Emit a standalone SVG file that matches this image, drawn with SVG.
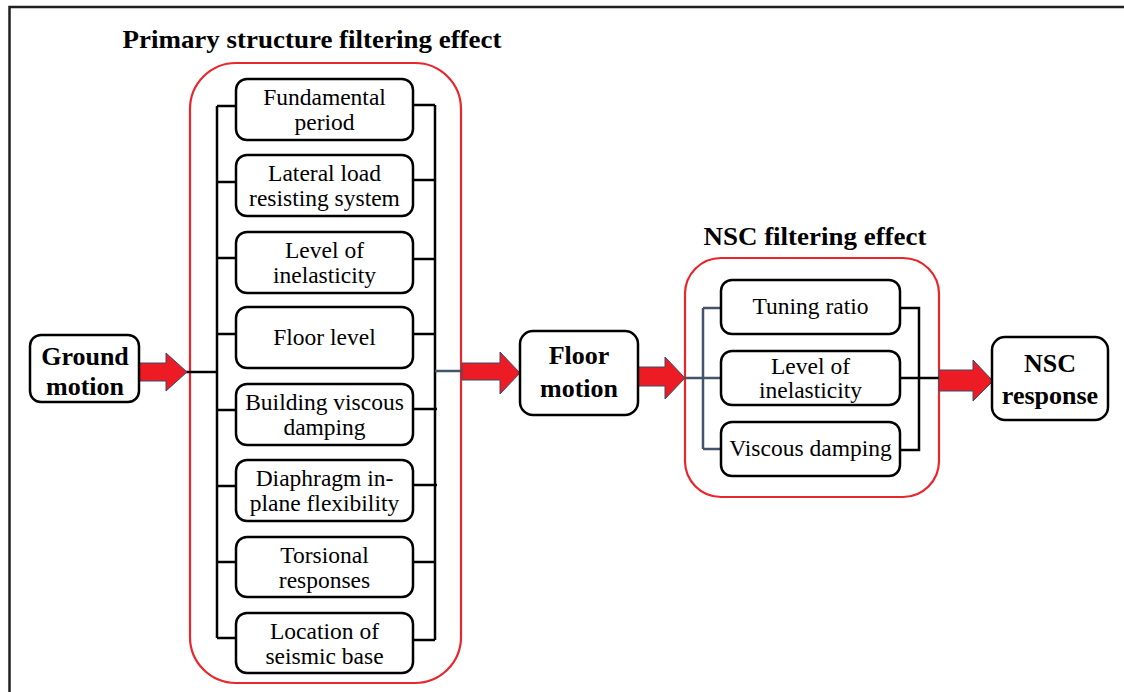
<svg xmlns="http://www.w3.org/2000/svg" width="1124" height="692" viewBox="0 0 1124 692">
  <style>
    .frame { fill: none; stroke: #231f20; stroke-width: 2.5; }
    .group { fill: none; stroke: #e8262b; stroke-width: 2.2; }
    .box { fill: #ffffff; stroke: #000000; stroke-width: 2.5; }
    .bus { fill: none; stroke: #000000; stroke-width: 2.5; }
    .bus-alt { fill: none; stroke: #44546a; stroke-width: 2.5; }
    .flow { fill: #ed1c24; stroke: #3b4a6b; stroke-width: 1; }
    .title { font-family: "Liberation Serif", "Times New Roman", serif; font-weight: bold; font-size: 26px; fill: #000; text-anchor: middle; }
    .label { font-family: "Liberation Serif", "Times New Roman", serif; font-size: 23.5px; fill: #000; text-anchor: middle; }
    .node { font-family: "Liberation Serif", "Times New Roman", serif; font-weight: bold; font-size: 26px; fill: #000; text-anchor: middle; }
  </style>

  <rect width="1124" height="692" fill="#ffffff"/>
  <!-- page frame -->
  <path class="frame" d="M9.5,692 V7 H1124"/>

  <!-- group headings -->
  <text class="title" x="312" y="48" textLength="379" lengthAdjust="spacingAndGlyphs">Primary structure filtering effect</text>
  <text class="title" x="815" y="245" textLength="223" lengthAdjust="spacingAndGlyphs">NSC filtering effect</text>

  <!-- group outlines -->
  <rect class="group" x="190" y="63" width="271" height="620" rx="46"/>
  <rect class="group" x="685" y="258" width="254" height="239" rx="36"/>

  <!-- connectors -->
  <g id="connectors">
    <!-- primary structure: input bus -->
    <path class="bus" d="M186,372 H217 M217,106 V638 M217,106 H236 M217,182 H236 M217,258 H236 M217,334 H236 M217,410 H236 M217,486 H236 M217,562 H236 M217,638 H236"/>
    <!-- primary structure: output bus -->
    <path class="bus" d="M435,105 V640 M413,105 H435 M413,180 H435 M413,259 H435 M413,334 H435 M413,409 H437 M413,485 H437 M413,562 H435 M413,640 H435"/>
    <path class="bus-alt" d="M435,371 H463" stroke-width="1.8"/>
    <!-- NSC: input bus -->
    <path class="bus-alt" d="M685,378 H721 M703,308 V449 M703,308 H721 M703,449 H721"/>
    <!-- NSC: output bus -->
    <path class="bus" d="M900,308 H919 V450 H900 M900,378 H939"/>

    <!-- block arrows -->
    <path class="flow" d="M139,363 H166 V353 L187,372 L166,391 V381 H139 Z"/>
    <path class="flow" d="M462,363 H500 V352 L520,373 L500,394 V380 H462 Z"/>
    <path class="flow" d="M638,367 H665 V357 L685,378 L665,399 V386 H638 Z"/>
    <path class="flow" d="M939,370 H973 V360 L993,381 L973,401 V391 H939 Z"/>
  </g>

  <!-- main flow nodes -->
  <g id="ground-motion">
    <rect class="box" x="30" y="335" width="109" height="67" rx="11"/>
    <text class="node" x="85" y="365">Ground</text>
    <text class="node" x="85" y="395">motion</text>
  </g>
  <g id="floor-motion">
    <rect class="box" x="520" y="331" width="118" height="84" rx="13"/>
    <text class="node" x="579" y="364">Floor</text>
    <text class="node" x="579" y="397">motion</text>
  </g>
  <g id="nsc-response">
    <rect class="box" x="992" y="337" width="116" height="83" rx="13"/>
    <text class="node" x="1050" y="372">NSC</text>
    <text class="node" x="1050" y="404">response</text>
  </g>

  <!-- primary structure factors -->
  <g id="fundamental-period">
    <rect class="box" x="236" y="79" width="177" height="61" rx="11"/>
    <text class="label" x="324.5" y="105">Fundamental</text>
    <text class="label" x="324.5" y="130">period</text>
  </g>
  <g id="lateral-load-system">
    <rect class="box" x="236" y="155" width="177" height="61" rx="11"/>
    <text class="label" x="324.5" y="181">Lateral load</text>
    <text class="label" x="324.5" y="206">resisting system</text>
  </g>
  <g id="level-of-inelasticity">
    <rect class="box" x="236" y="232" width="177" height="61" rx="11"/>
    <text class="label" x="324.5" y="258">Level of</text>
    <text class="label" x="324.5" y="283">inelasticity</text>
  </g>
  <g id="floor-level">
    <rect class="box" x="236" y="307" width="177" height="61" rx="11"/>
    <text class="label" x="324.5" y="345">Floor level</text>
  </g>
  <g id="building-viscous-damping">
    <rect class="box" x="236" y="384" width="177" height="61" rx="11"/>
    <text class="label" x="324.5" y="410">Building viscous</text>
    <text class="label" x="324.5" y="435">damping</text>
  </g>
  <g id="diaphragm-flexibility">
    <rect class="box" x="236" y="460" width="177" height="61" rx="11"/>
    <text class="label" x="324.5" y="486">Diaphragm in-</text>
    <text class="label" x="324.5" y="511">plane flexibility</text>
  </g>
  <g id="torsional-responses">
    <rect class="box" x="236" y="537" width="177" height="60" rx="11"/>
    <text class="label" x="324.5" y="563">Torsional</text>
    <text class="label" x="324.5" y="588">responses</text>
  </g>
  <g id="seismic-base-location">
    <rect class="box" x="236" y="613" width="177" height="60" rx="11"/>
    <text class="label" x="324.5" y="639">Location of</text>
    <text class="label" x="324.5" y="664">seismic base</text>
  </g>

  <!-- NSC factors -->
  <g id="tuning-ratio">
    <rect class="box" x="721" y="280" width="179" height="54" rx="11"/>
    <text class="label" x="810.5" y="314">Tuning ratio</text>
  </g>
  <g id="nsc-inelasticity">
    <rect class="box" x="721" y="351" width="179" height="54" rx="11"/>
    <text class="label" x="810.5" y="374">Level of</text>
    <text class="label" x="810.5" y="398">inelasticity</text>
  </g>
  <g id="viscous-damping">
    <rect class="box" x="721" y="422" width="179" height="54" rx="11"/>
    <text class="label" x="810.5" y="456">Viscous damping</text>
  </g>
</svg>
